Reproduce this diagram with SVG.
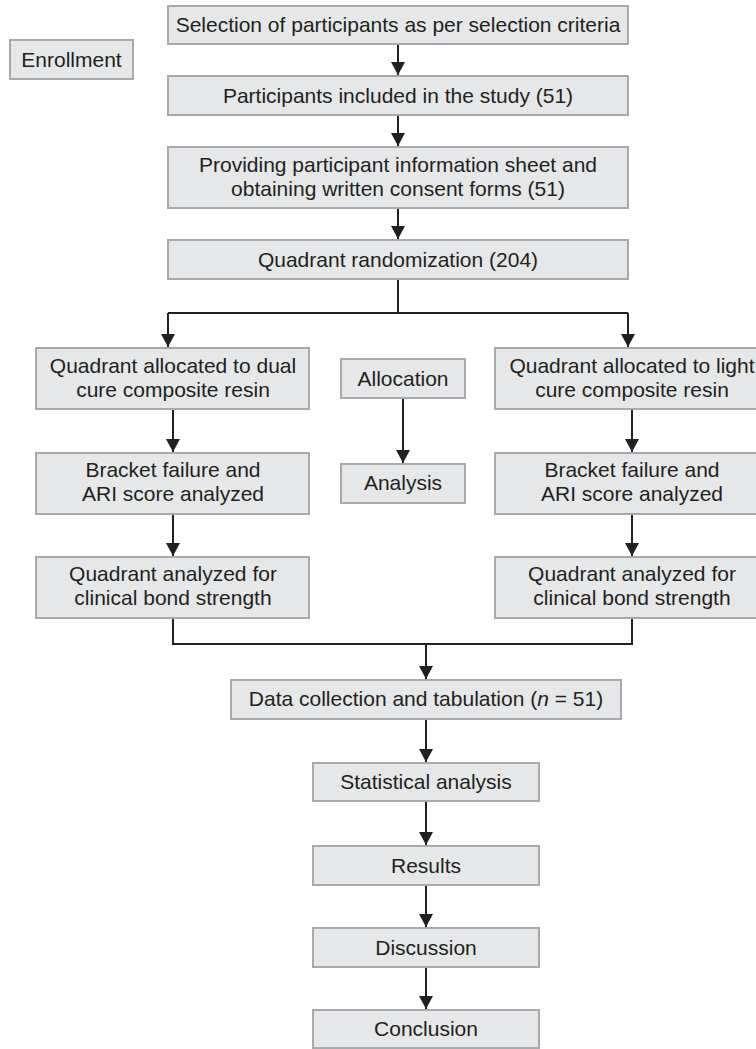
<svg xmlns="http://www.w3.org/2000/svg" width="756" height="1049" viewBox="0 0 756 1049">
<style>
.box{fill:#e6e7e8;stroke:#a7a9ac;stroke-width:2}
.t{font-family:"Liberation Sans",Arial,sans-serif;font-size:21px;fill:#231f20;text-anchor:middle}
.c{fill:none;stroke:#231f20;stroke-width:2}
</style>
<defs>
<marker id="ah" markerUnits="userSpaceOnUse" markerWidth="14" markerHeight="14" refX="13" refY="7" orient="auto">
<path d="M0,0 L13,7 L0,14 Z" fill="#231f20"/>
</marker>
</defs>
<rect width="756" height="1049" fill="#ffffff"/>
<g id="connectors">
<path class="c" d="M398,44 V75" marker-end="url(#ah)"/>
<path class="c" d="M398,115 V146" marker-end="url(#ah)"/>
<path class="c" d="M398,208 V239" marker-end="url(#ah)"/>
<path class="c" d="M398,279 V313 M168,313 H628"/>
<path class="c" d="M168,313 V347" marker-end="url(#ah)"/>
<path class="c" d="M628,313 V347" marker-end="url(#ah)"/>
<path class="c" d="M173,409 V452" marker-end="url(#ah)"/>
<path class="c" d="M173,514 V556" marker-end="url(#ah)"/>
<path class="c" d="M632,409 V452" marker-end="url(#ah)"/>
<path class="c" d="M632,514 V556" marker-end="url(#ah)"/>
<path class="c" d="M403,398 V463" marker-end="url(#ah)"/>
<path class="c" d="M173,618 V644 H632 V618"/>
<path class="c" d="M426,644 V679" marker-end="url(#ah)"/>
<path class="c" d="M426,719 V762" marker-end="url(#ah)"/>
<path class="c" d="M426,801 V845" marker-end="url(#ah)"/>
<path class="c" d="M426,885 V927" marker-end="url(#ah)"/>
<path class="c" d="M426,967 V1009" marker-end="url(#ah)"/>
</g>
<g id="selection"><rect class="box" x="168" y="6" width="460" height="38"/><text class="t" x="398" y="32">Selection of participants as per selection criteria</text></g>
<g id="enrollment"><rect class="box" x="10" y="40" width="123" height="39"/><text class="t" x="71.5" y="67">Enrollment</text></g>
<g id="included"><rect class="box" x="168" y="76" width="460" height="39"/><text class="t" x="398" y="103">Participants included in the study (51)</text></g>
<g id="consent"><rect class="box" x="168" y="147" width="460" height="61"/><text class="t" x="398" y="172">Providing participant information sheet and</text><text class="t" x="398" y="196">obtaining written consent forms (51)</text></g>
<g id="randomization"><rect class="box" x="168" y="240" width="460" height="39"/><text class="t" x="398" y="267">Quadrant randomization (204)</text></g>
<g id="dual"><rect class="box" x="36" y="348" width="273" height="61"/><text class="t" x="173" y="373">Quadrant allocated to dual</text><text class="t" x="173" y="397">cure composite resin</text></g>
<g id="allocation"><rect class="box" x="341" y="359" width="124" height="39"/><text class="t" x="403" y="386">Allocation</text></g>
<g id="light"><rect class="box" x="495" y="348" width="274" height="61"/><text class="t" x="632" y="373">Quadrant allocated to light</text><text class="t" x="632" y="397">cure composite resin</text></g>
<g id="bracket-left"><rect class="box" x="36" y="453" width="273" height="61"/><text class="t" x="173" y="477">Bracket failure and</text><text class="t" x="173" y="501">ARI score analyzed</text></g>
<g id="analysis"><rect class="box" x="341" y="464" width="124" height="39"/><text class="t" x="403" y="490">Analysis</text></g>
<g id="bracket-right"><rect class="box" x="495" y="453" width="274" height="61"/><text class="t" x="632" y="477">Bracket failure and</text><text class="t" x="632" y="501">ARI score analyzed</text></g>
<g id="bond-left"><rect class="box" x="36" y="557" width="273" height="61"/><text class="t" x="173" y="581">Quadrant analyzed for</text><text class="t" x="173" y="605">clinical bond strength</text></g>
<g id="bond-right"><rect class="box" x="495" y="557" width="274" height="61"/><text class="t" x="632" y="581">Quadrant analyzed for</text><text class="t" x="632" y="605">clinical bond strength</text></g>
<g id="data"><rect class="box" x="231" y="680" width="390" height="39"/><text class="t" x="426" y="706">Data collection and tabulation (<tspan font-style="italic">n</tspan> = 51)</text></g>
<g id="statistical"><rect class="box" x="313" y="763" width="226" height="38"/><text class="t" x="426" y="789">Statistical analysis</text></g>
<g id="results"><rect class="box" x="313" y="846" width="226" height="39"/><text class="t" x="426" y="873">Results</text></g>
<g id="discussion"><rect class="box" x="313" y="928" width="226" height="39"/><text class="t" x="426" y="955">Discussion</text></g>
<g id="conclusion"><rect class="box" x="313" y="1010" width="226" height="38"/><text class="t" x="426" y="1036">Conclusion</text></g>
</svg>
